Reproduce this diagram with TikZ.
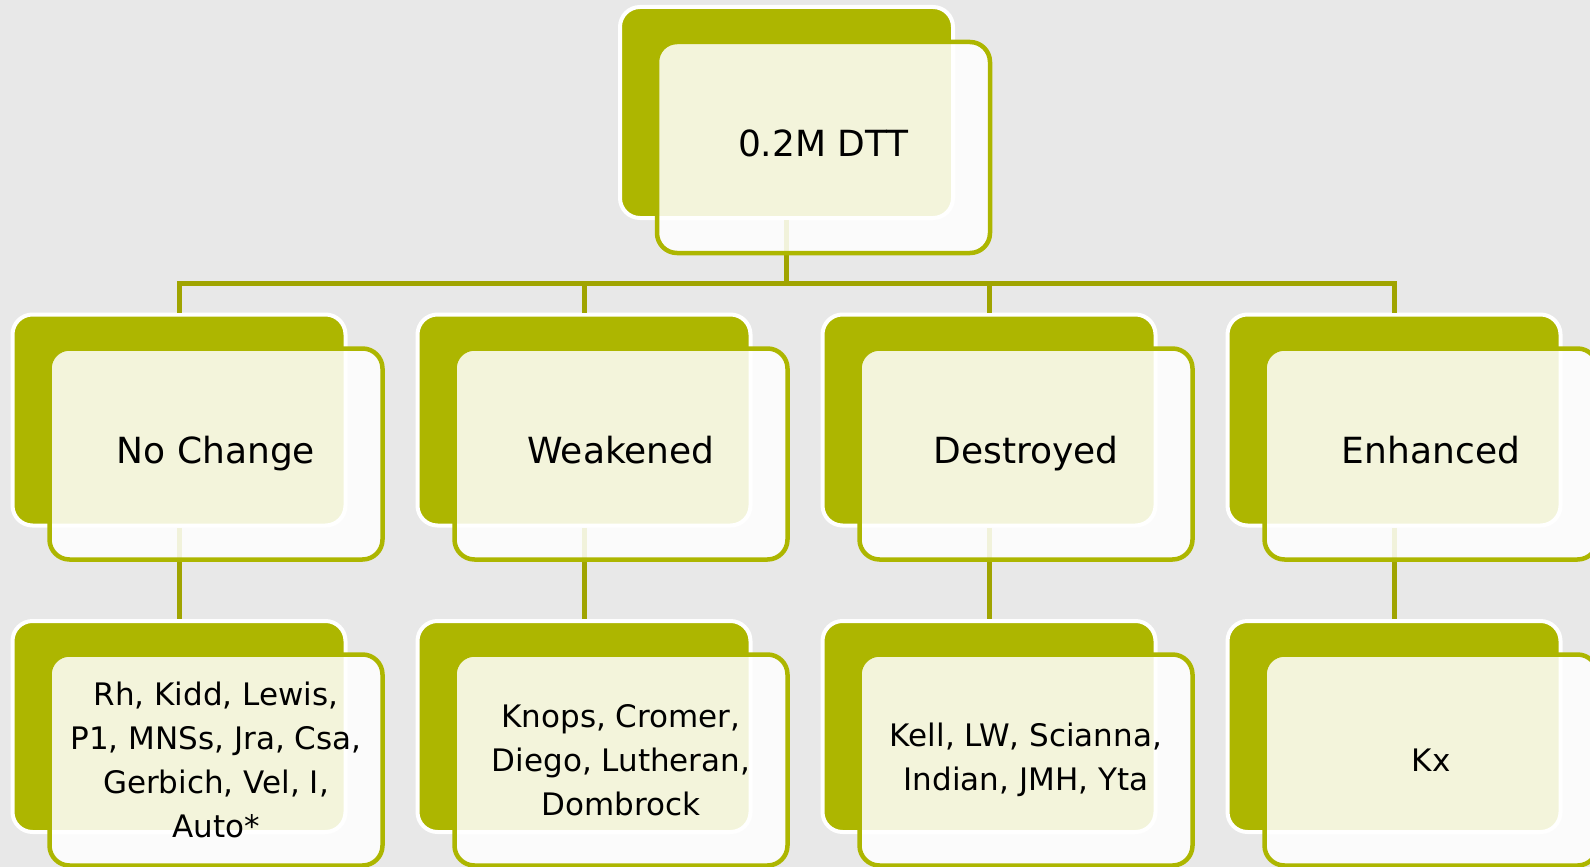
\documentclass[tikz,border=0pt]{standalone}
\usepackage{fontspec}
\setmainfont{DejaVu Sans}
\definecolor{boxolive}{HTML}{ADB600}
\definecolor{lineolive}{HTML}{A0A400}
\definecolor{bggray}{HTML}{E8E8E8}
\begin{document}
\begin{tikzpicture}[x=1pt,y=-1pt,
  backbox/.style={rectangle, rounded corners=20pt, fill=boxolive, draw=white, line width=4pt,
    minimum width=333pt, minimum height=211pt, inner sep=0pt},
  frontbox/.style={rectangle, rounded corners=20pt, fill=white, fill opacity=0.86, text opacity=1,
    draw=boxolive, line width=4.5pt, minimum width=333pt, minimum height=211pt, align=center, inner sep=0pt},
  bigtext/.style={font=\fontsize{36}{43}\selectfont, text height=27.4pt, text depth=8.5pt},
  smalltext/.style={font=\fontsize{31}{44}\selectfont},
  conn/.style={draw=lineolive, line width=5pt}]
\useasboundingbox (0,0) rectangle (1590,867);
\fill[bggray] (0,0) rectangle (1590,867);
\coordinate (bus) at (0,283);
% back boxes
\node[backbox] (tb) at (786.5,112.5) {};
\foreach \i/\x in {1/179,2/584,3/989,4/1394}{
  \node[backbox] (b\i) at (\x,420) {};
  \node[backbox] (c\i) at (\x,726.5) {};
}
% connectors
\foreach \i in {1,2,3,4}{
  \draw[conn] (tb.south) -- (tb.south |- bus) -| (b\i.north);
  \draw[conn] (b\i.south) -- (c\i.north);
}
% front boxes
\node[frontbox,bigtext] (t) at (823.5,147.5) {0.2M DTT};
\node[frontbox,bigtext] (f1) at (216,454) {No Change};
\node[frontbox,bigtext] (f2) at (621,454) {Weakened};
\node[frontbox,bigtext] (f3) at (1026,454) {Destroyed};
\node[frontbox,bigtext] (f4) at (1431,454) {Enhanced};
\node[frontbox,smalltext] (g1) at (216,760) {Rh, Kidd, Lewis,\\P1, MNSs, Jra, Csa,\\Gerbich, Vel, I,\\Auto*};
\node[frontbox,smalltext] (g2) at (621,760) {Knops, Cromer,\\Diego, Lutheran,\\Dombrock};
\node[frontbox,smalltext] (g3) at (1026,760) {Kell, LW, Scianna,\\Indian, JMH, Yta};
\node[frontbox,smalltext] (g4) at (1431,760) {Kx};
\end{tikzpicture}
\end{document}
